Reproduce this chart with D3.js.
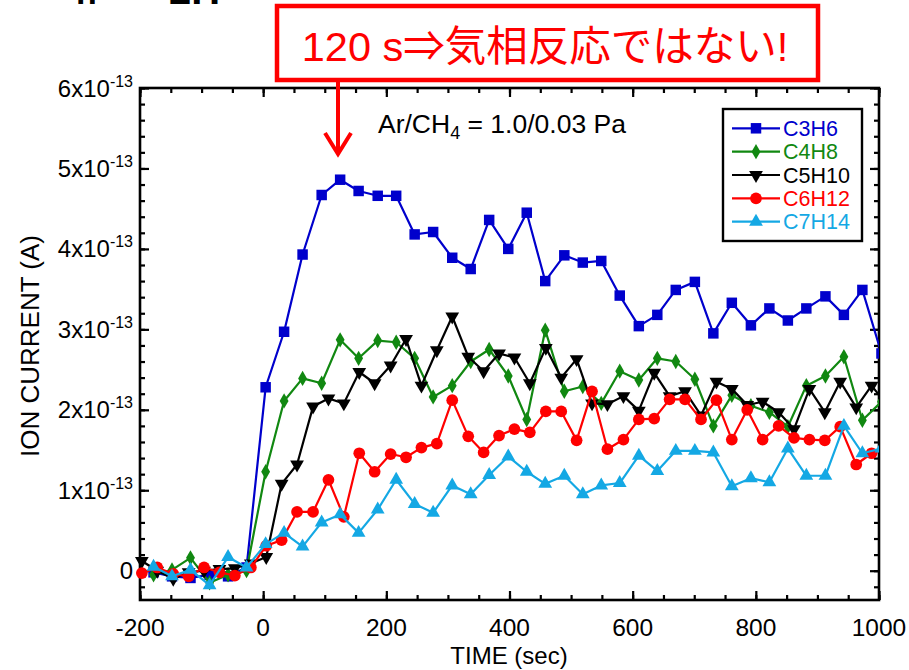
<!DOCTYPE html>
<html>
<head>
<meta charset="utf-8">
<script src="https://cdn.jsdelivr.net/npm/d3@7"></script>
<style>
  html, body { margin: 0; padding: 0; background: #fff; }
  svg { display: block; font-family: "Liberation Sans", Arial, sans-serif; }
</style>
</head>
<body>
<svg id="chart" width="909" height="670"></svg>
<script>
// Sampling times (s): C3H6, C4H8, C7H14 were logged every ~30 s, C5H10, C6H12 every ~25 s
const timesA = [-178, -148, -118, -87, -57, -27, 4, 34, 64, 95, 125, 155, 186, 216, 246, 276,
  307, 337, 367, 398, 428, 458, 489, 519, 549, 579, 610, 640, 670, 701, 731, 761, 792, 822,
  852, 882, 913, 943, 973, 1004];
const timesB = [-197, -172, -146, -121, -96, -71, -46, -20, 5, 30, 55, 81, 106, 131, 156, 181,
  207, 232, 257, 282, 307, 333, 358, 383, 408, 433, 459, 484, 509, 534, 559, 585, 610, 635,
  660, 685, 711, 736, 761, 786, 811, 837, 862, 887, 912, 937, 963, 988, 1013];

// Ion current in units of 1e-13 A
const c3h6 = [-0.02, -0.07, -0.09, -0.05, -0.07, 0.04, 2.28, 2.97, 3.93, 4.67, 4.86, 4.72, 4.66,
  4.66, 4.18, 4.21, 3.89, 3.75, 4.36, 4.00, 4.45, 3.60, 3.92, 3.83, 3.85, 3.42, 3.04, 3.18, 3.49,
  3.59, 2.95, 3.33, 3.05, 3.26, 3.11, 3.26, 3.41, 3.18, 3.49, 2.70];
const c4h8 = [-0.05, 0.01, 0.16, -0.15, -0.05, 0.00, 1.23, 2.11, 2.39, 2.33, 2.87, 2.64, 2.86,
  2.84, 2.64, 2.16, 2.30, 2.60, 2.75, 2.42, 1.88, 2.99, 2.23, 2.29, 2.08, 2.48, 2.37, 2.64, 2.60,
  2.38, 1.80, 2.18, 2.05, 1.97, 1.79, 2.30, 2.42, 2.66, 1.87, 2.10];
const c5h10 = [0.12, 0.00, -0.10, -0.02, 0.00, 0.02, 0.03, 0.09, 0.17, 1.08, 1.32, 2.04, 2.14,
  2.08, 2.47, 2.33, 2.55, 2.88, 2.30, 2.74, 3.16, 2.66, 2.48, 2.70, 2.65, 2.33, 2.77, 2.40, 2.63,
  2.08, 2.07, 2.17, 1.99, 2.46, 2.17, 2.23, 1.93, 2.35, 2.26, 2.06, 2.10, 1.97, 1.76, 2.26, 1.97,
  2.35, 2.03, 2.30, 2.06];
const c6h12 = [-0.03, 0.04, -0.04, -0.07, 0.04, -0.02, -0.06, 0.04, 0.31, 0.38, 0.73, 0.73, 1.13,
  0.67, 1.46, 1.23, 1.45, 1.41, 1.53, 1.58, 2.12, 1.67, 1.47, 1.68, 1.76, 1.72, 1.98, 1.98, 1.62,
  2.23, 1.51, 1.63, 1.88, 1.89, 2.13, 2.13, 1.88, 2.12, 1.63, 2.00, 1.63, 1.80, 1.65, 1.63, 1.62,
  1.79, 1.32, 1.46, 1.52];
const c7h14 = [0.05, -0.07, 0.01, -0.18, 0.17, 0.04, 0.33, 0.47, 0.30, 0.60, 0.70, 0.47, 0.76,
  1.13, 0.83, 0.72, 1.06, 0.95, 1.19, 1.42, 1.23, 1.08, 1.18, 0.95, 1.06, 1.09, 1.43, 1.24, 1.49,
  1.49, 1.47, 1.05, 1.15, 1.10, 1.52, 1.18, 1.18, 1.80, 1.46, 1.52];

const seriesNames = ["C3H6", "C4H8", "C5H10", "C6H12", "C7H14"];
const seriesColors = ["#0000cc", "#118811", "#000000", "#ff0000", "#14a8e4"];

const xMajorTicks = [-200, 0, 200, 400, 600, 800, 1000];
const yMajorTicks = [0, 1, 2, 3, 4, 5, 6];
const yExponent = "-13";

const xTitle = "TIME (sec)";
const yTitle = "ION CURRENT (A)";
const conditionText = ["Ar/CH", "4", " = 1.0/0.03 Pa"];
const calloutText = "120 s⇒気相反応ではない!";

// ---------- layout ----------
const svg = d3.select("#chart");
const plot = { left: 140, right: 879, top: 88, bottom: 600 };

const x = d3.scaleLinear().domain([-200, 1000]).range([plot.left, plot.right]);
const y = d3.scaleLinear().domain([0, 6]).range([570.7, plot.top]);
y.domain([y.invert(plot.bottom), 6]).range([plot.bottom, plot.top]);

// page heading fragment (mostly above the top edge)
svg.append("text").attr("x", 76).attr("y", 4)
  .attr("font-size", 34).attr("font-weight", "bold").text("n");
svg.append("text").attr("x", 169).attr("y", 4)
  .attr("font-size", 40).attr("font-weight", "bold").text("2H");

// ---------- ticks (inward on all four sides) ----------
const xMinor = d3.range(-200, 1001, 50);
const yMinor = d3.range(-0.2, 6.01, 0.2).map(v => +v.toFixed(1));

function tickGroup(axisFn, scale, values, size, tx, ty) {
  const g = svg.append("g").attr("transform", `translate(${tx},${ty})`)
    .call(axisFn(scale).tickValues(values).tickSize(size).tickFormat(""));
  g.select(".domain").remove();
  g.selectAll(".tick line").attr("stroke", "#000").attr("stroke-width", 2.2);
  return g;
}
tickGroup(d3.axisBottom, x, xMinor, -5, 0, plot.bottom);
tickGroup(d3.axisBottom, x, xMajorTicks, -9, 0, plot.bottom);
tickGroup(d3.axisTop, x, xMinor, -5, 0, plot.top);
tickGroup(d3.axisTop, x, xMajorTicks, -9, 0, plot.top);
tickGroup(d3.axisLeft, y, yMinor, -5, plot.left, 0);
tickGroup(d3.axisLeft, y, yMajorTicks, -9, plot.left, 0);
tickGroup(d3.axisRight, y, yMinor, -5, plot.right, 0);
tickGroup(d3.axisRight, y, yMajorTicks, -9, plot.right, 0);

// frame
svg.append("rect")
  .attr("x", plot.left).attr("y", plot.top)
  .attr("width", plot.right - plot.left).attr("height", plot.bottom - plot.top)
  .attr("fill", "none").attr("stroke", "#000").attr("stroke-width", 2.6);

// x tick labels
svg.append("g").selectAll("text").data(xMajorTicks).join("text")
  .attr("x", d => x(d)).attr("y", plot.bottom + 36)
  .attr("text-anchor", "middle").attr("font-size", 24.5)
  .text(d => d);

// y tick labels with power-of-ten notation
const yLab = svg.append("g").selectAll("text").data(yMajorTicks).join("text")
  .attr("x", 133).attr("y", d => y(d) + 8.5)
  .attr("text-anchor", "end").attr("font-size", 24);
yLab.each(function (d) {
  const t = d3.select(this);
  if (d === 0) { t.text("0"); return; }
  t.append("tspan").text(d + "x10");
  t.append("tspan").attr("font-size", 16).attr("dy", -10).text(yExponent);
});

// axis titles
svg.append("text").attr("x", 509).attr("y", 664)
  .attr("text-anchor", "middle").attr("font-size", 24).text(xTitle);
svg.append("text")
  .attr("transform", `translate(39,${(plot.top + plot.bottom) / 2 + 2}) rotate(-90)`)
  .attr("text-anchor", "middle").attr("font-size", 26).text(yTitle);

// ---------- data ----------
svg.append("clipPath").attr("id", "plotClip").append("rect")
  .attr("x", 0).attr("y", 0).attr("width", plot.right).attr("height", 670);

const seriesData = [
  { name: seriesNames[0], t: timesA, v: c3h6, color: seriesColors[0], shape: "square" },
  { name: seriesNames[1], t: timesA, v: c4h8, color: seriesColors[1], shape: "diamond" },
  { name: seriesNames[2], t: timesB, v: c5h10, color: seriesColors[2], shape: "down" },
  { name: seriesNames[3], t: timesB, v: c6h12, color: seriesColors[3], shape: "circle" },
  { name: seriesNames[4], t: timesA, v: c7h14, color: seriesColors[4], shape: "up" }
];

const symbolFor = {
  square: { type: d3.symbolSquare, size: 110, rot: 0 },
  diamond: { type: d3.symbolDiamond, size: 68, rot: 0 },
  down: { type: d3.symbolTriangle, size: 82, rot: 180 },
  circle: { type: d3.symbolCircle, size: 108, rot: 0 },
  up: { type: d3.symbolTriangle, size: 82, rot: 0 }
};

const line = d3.line().x(d => x(d[0])).y(d => y(d[1]));
const dataLayer = svg.append("g").attr("clip-path", "url(#plotClip)");

function drawMarker(sel, s) {
  const sym = symbolFor[s.shape];
  sel.attr("d", d3.symbol().type(sym.type).size(sym.size))
    .attr("fill", s.color);
}

seriesData.forEach(s => {
  const pts = s.t.map((t, i) => [t, s.v[i]]);
  const g = dataLayer.append("g");
  g.append("path").datum(pts).attr("d", line)
    .attr("fill", "none").attr("stroke", s.color).attr("stroke-width", 2.2)
    .attr("stroke-linejoin", "round");
  g.selectAll("path.mk").data(pts).join("path").attr("class", "mk")
    .attr("transform", d => `translate(${x(d[0])},${y(d[1])}) rotate(${symbolFor[s.shape].rot})`)
    .call(drawMarker, s);
});

// ---------- legend ----------
const legend = svg.append("g");
legend.append("rect").attr("x", 723).attr("y", 109).attr("width", 139).attr("height", 132)
  .attr("fill", "#fff").attr("stroke", "#000").attr("stroke-width", 2.4);
seriesData.forEach((s, i) => {
  const ly = 128.3 + i * 23.35;
  legend.append("line").attr("x1", 732).attr("x2", 780).attr("y1", ly).attr("y2", ly)
    .attr("stroke", s.color).attr("stroke-width", 2.2);
  legend.append("path")
    .attr("transform", `translate(756,${ly}) rotate(${symbolFor[s.shape].rot})`)
    .call(drawMarker, s);
  legend.append("text").attr("x", 783).attr("y", ly + 7.5)
    .attr("font-size", 21.5).attr("fill", s.color).text(s.name);
});

// ---------- annotations ----------
const cond = svg.append("text").attr("x", 378).attr("y", 133).attr("font-size", 26.5);
cond.append("tspan").text(conditionText[0]);
cond.append("tspan").attr("font-size", 18).attr("dy", 6).text(conditionText[1]);
cond.append("tspan").attr("dy", -6).text(conditionText[2]);

svg.append("rect").attr("x", 277).attr("y", 6).attr("width", 541).attr("height", 74)
  .attr("fill", "#fff").attr("stroke", "#ff0000").attr("stroke-width", 4.5);
svg.append("text").attr("x", 545).attr("y", 61)
  .attr("text-anchor", "middle").attr("fill", "#ff0000").attr("font-size", 41.5)
  .style("font-family", "'Liberation Sans', 'Noto Sans CJK JP', sans-serif")
  .text(calloutText);
svg.append("line").attr("x1", 338).attr("x2", 338).attr("y1", 82).attr("y2", 152)
  .attr("stroke", "#ff0000").attr("stroke-width", 4);
svg.append("polyline").attr("points", "325,133 338,154 351,133")
  .attr("fill", "none").attr("stroke", "#ff0000").attr("stroke-width", 4)
  .attr("stroke-linejoin", "miter");
</script>
</body>
</html>
